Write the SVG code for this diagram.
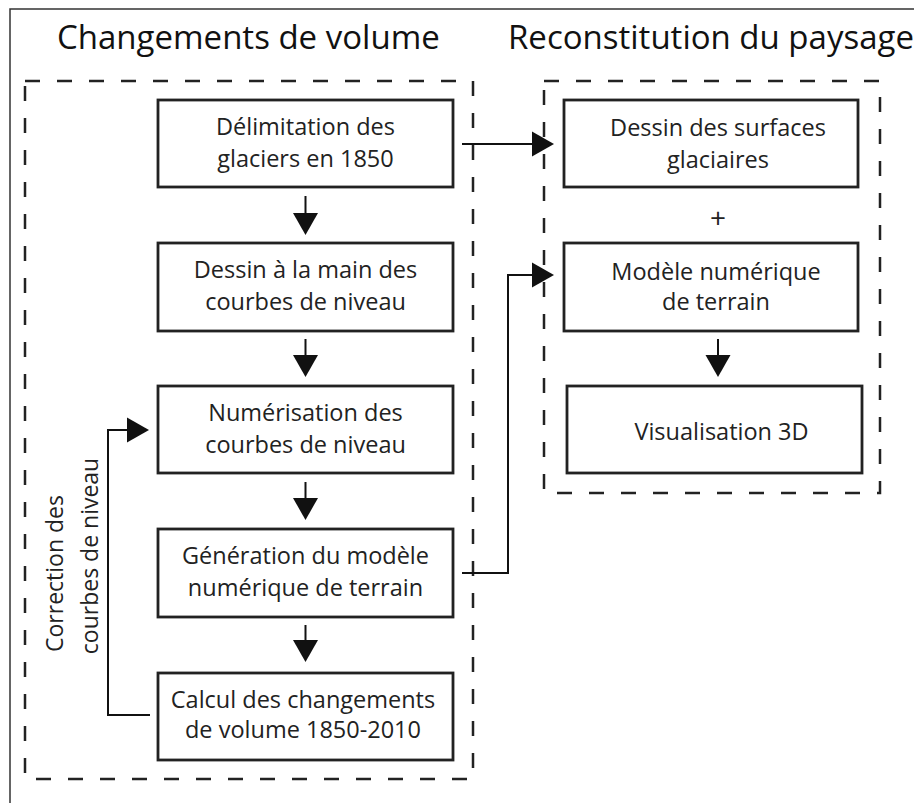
<svg xmlns="http://www.w3.org/2000/svg" width="914" height="803" viewBox="0 0 914 803">
  <defs>
    <style>
      .frame { fill: none; stroke: #333; stroke-width: 1.5; }
      .group { fill: none; stroke: #222; stroke-width: 2.5; stroke-dasharray: 15 17; }
      .box { fill: #fff; stroke: #222; stroke-width: 2.8; }
      .lbl { font-family: "Open Sans", "Noto Sans", "Liberation Sans", sans-serif; font-size: 23.5px; fill: #222; text-anchor: middle; }
      .side { font-size: 23px; }
      .title { font-family: "Open Sans", "Noto Sans", "Liberation Sans", sans-serif; font-size: 33px; fill: #111; }
      .conn { fill: none; stroke: #111; stroke-width: 2; }
    </style>
    <marker id="ah" markerUnits="userSpaceOnUse" markerWidth="24" markerHeight="28" viewBox="0 -14 24 28" refX="0" refY="0" orient="auto">
      <path d="M0,-12.5 L22,0 L0,12.5 Z" fill="#111"/>
    </marker>
  </defs>
  <rect width="914" height="803" fill="#fff"/>
  <path class="frame" d="M10,803 V9 H914"/>

  <text class="title" x="57" y="49">Changements de volume</text>
  <text class="title" x="508" y="49">Reconstitution du paysage</text>

  <rect class="group" x="25" y="81" width="448" height="698"/>
  <rect class="group" x="544" y="81" width="336" height="412"/>

  <g id="connectors">
    <line class="conn" x1="305.5" y1="196" x2="305.5" y2="213" marker-end="url(#ah)"/>
    <line class="conn" x1="305.5" y1="339" x2="305.5" y2="355" marker-end="url(#ah)"/>
    <line class="conn" x1="305.5" y1="482" x2="305.5" y2="498" marker-end="url(#ah)"/>
    <line class="conn" x1="305.5" y1="625" x2="305.5" y2="640" marker-end="url(#ah)"/>
    <line class="conn" x1="718" y1="339" x2="718" y2="355" marker-end="url(#ah)"/>
    <line class="conn" x1="462" y1="144" x2="532" y2="144" marker-end="url(#ah)"/>
    <path class="conn" d="M462,573 H508 V275 H532" marker-end="url(#ah)"/>
    <path class="conn" d="M150,715 H108 V430 H127" marker-end="url(#ah)"/>
  </g>

  <g id="n1">
    <rect class="box" x="158" y="100" width="295" height="87"/>
    <text class="lbl" x="305.5" y="135">Délimitation des</text>
    <text class="lbl" x="305.5" y="167">glaciers en 1850</text>
  </g>
  <g id="n2">
    <rect class="box" x="158" y="243" width="295" height="88"/>
    <text class="lbl" x="305.5" y="278">Dessin à la main des</text>
    <text class="lbl" x="305.5" y="310">courbes de niveau</text>
  </g>
  <g id="n3">
    <rect class="box" x="158" y="386" width="295" height="87"/>
    <text class="lbl" x="305.5" y="421">Numérisation des</text>
    <text class="lbl" x="305.5" y="453">courbes de niveau</text>
  </g>
  <g id="n4">
    <rect class="box" x="158" y="529" width="295" height="88"/>
    <text class="lbl" x="305.5" y="564">Génération du modèle</text>
    <text class="lbl" x="305.5" y="596">numérique de terrain</text>
  </g>
  <g id="n5">
    <rect class="box" x="158" y="673" width="295" height="87"/>
    <text class="lbl" x="303" y="708">Calcul des changements</text>
    <text class="lbl" x="303" y="738">de volume 1850-2010</text>
  </g>

  <g id="nA">
    <rect class="box" x="564" y="100" width="294" height="87"/>
    <text class="lbl" x="718" y="136">Dessin des surfaces</text>
    <text class="lbl" x="718" y="168">glaciaires</text>
  </g>
  <g id="plus">
    <text class="lbl" x="718" y="228" style="font-size:28px">+</text>
  </g>
  <g id="nB">
    <rect class="box" x="564" y="243" width="294" height="88"/>
    <text class="lbl" x="716" y="280">Modèle numérique</text>
    <text class="lbl" x="716" y="310">de terrain</text>
  </g>
  <g id="nC">
    <rect class="box" x="567" y="386" width="295" height="87"/>
    <text class="lbl" x="721.5" y="440">Visualisation 3D</text>
  </g>

  <g id="side-label">
    <text class="lbl side" transform="translate(63,573.5) rotate(-90)">Correction des</text>
    <text class="lbl side" transform="translate(98,556) rotate(-90)">courbes de niveau</text>
  </g>
</svg>
